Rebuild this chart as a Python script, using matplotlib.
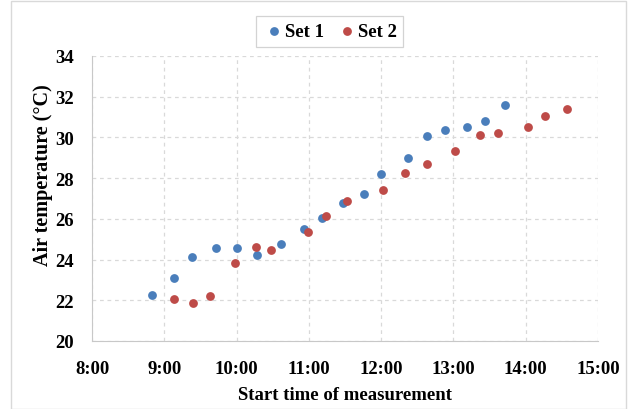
import matplotlib
matplotlib.use('Agg')
import matplotlib.pyplot as plt
from matplotlib.ticker import FuncFormatter, MultipleLocator
from matplotlib.patches import Rectangle

# start times (h:mm) and air temperatures
set1_time = ['8:50', '9:08', '9:23', '9:43', '10:00', '10:17', '10:37', '10:56', '11:11',
             '11:28', '11:46', '12:00', '12:22', '12:38', '12:53', '13:11', '13:26', '13:43']
set1_temp = [22.25, 23.1, 24.1, 24.55, 24.55, 24.2, 24.75, 25.5, 26.05,
             26.8, 27.2, 28.2, 29.0, 30.05, 30.35, 30.5, 30.8, 31.6]

set2_time = ['9:08', '9:24', '9:38', '9:59', '10:16', '10:29', '10:59', '11:14', '11:32',
             '12:02', '12:20', '12:38', '13:01', '13:22', '13:37', '14:02', '14:16', '14:34']
set2_temp = [22.05, 21.85, 22.2, 23.85, 24.6, 24.45, 25.35, 26.15, 26.9,
             27.4, 28.25, 28.7, 29.35, 30.1, 30.2, 30.5, 31.05, 31.4]


def to_min(s):
    h, m = s.split(':')
    return int(h) * 60 + int(m)


def fmt_time(v, pos):
    v = int(round(v))
    return f"{v // 60}:{v % 60:02d}"


plt.rcParams['font.family'] = ['Liberation Serif', 'DejaVu Serif']
plt.rcParams['font.weight'] = 'bold'

fig = plt.figure(figsize=(6.32, 4.1), dpi=100)
fig.patches.append(Rectangle((0.018, 0.0), 0.972, 0.995, transform=fig.transFigure,
                             fill=False, edgecolor='#d9d9d9', linewidth=1))
ax = fig.add_axes([0.1456, 0.166, 0.8004, 0.695])

ax.scatter([to_min(t) for t in set1_time], set1_temp, s=40, color='#4a7ebb',
           label='Set 1', zorder=3, linewidths=0)
ax.scatter([to_min(t) for t in set2_time], set2_temp, s=40, color='#be4b48',
           label='Set 2', zorder=3, linewidths=0)

ax.set_xlim(480, 900)
ax.set_ylim(20, 34)
ax.xaxis.set_major_locator(MultipleLocator(60))
ax.xaxis.set_major_formatter(FuncFormatter(fmt_time))
ax.yaxis.set_major_locator(MultipleLocator(2))
ax.grid(True, color='#d9d9d9', linestyle=(0, (3, 3)), linewidth=0.9)
ax.set_axisbelow(True)

for side in ['top', 'right']:
    ax.spines[side].set_visible(False)
for side in ['left', 'bottom']:
    ax.spines[side].set_color('#c8c8c8')
ax.tick_params(length=0, labelsize=13.5)
ax.tick_params(axis='x', pad=14)
ax.tick_params(axis='y', pad=13)
for lab in ax.get_xticklabels() + ax.get_yticklabels():
    lab.set_fontweight('bold')

ax.set_xlabel('Start time of measurement', fontsize=13.5, fontweight='bold', labelpad=6)
ax.set_ylabel('Air temperature (°C)', fontsize=14.5, fontweight='bold')
ax.yaxis.set_label_coords(-0.078, 0.585)

leg = ax.legend(loc='lower center', bbox_to_anchor=(0.47, 1.0), ncol=2, frameon=True,
                fancybox=False, edgecolor='#c8c8c8', handletextpad=0.0,
                handlelength=1.2, columnspacing=0.6, borderpad=0.35,
                prop={'size': 13.5, 'weight': 'bold'})
leg.get_frame().set_linewidth(0.9)

fig.savefig('out.png', dpi=100)
